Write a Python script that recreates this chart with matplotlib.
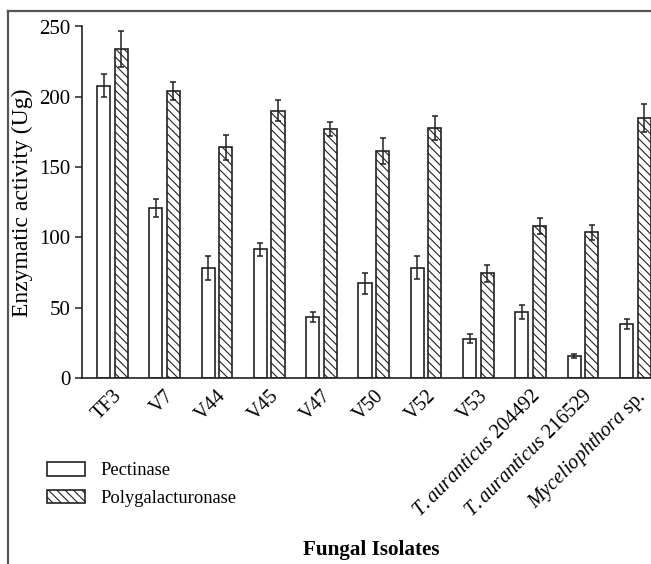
import numpy as np
import matplotlib
matplotlib.use("Agg")
from matplotlib import pyplot as plt
from matplotlib.lines import Line2D

plt.rcParams["font.family"] = "Liberation Serif"
plt.rcParams["mathtext.fontset"] = "custom"
plt.rcParams["mathtext.rm"] = "Liberation Serif"
plt.rcParams["mathtext.it"] = "Liberation Serif:italic"
plt.rcParams["hatch.linewidth"] = 0.8
plt.rcParams["hatch.color"] = "#222222"

# data
# ---------------------------------------

isolates = ["TF3", "V7", "V44", "V45", "V47", "V50", "V52", "V53",
            r"$\mathit{T.auranticus}$ 204492",
            r"$\mathit{T.auranticus}$ 216529",
            r"$\mathit{Myceliophthora}$ sp."]

pectinase = [208, 121, 78, 91.5, 43.5, 67.5, 78.5, 28, 47, 15.5, 38.5]
pectinase_err = [8, 6.5, 8.5, 4.5, 3.5, 7.5, 8, 3, 5, 1.5, 3.5]

polygalacturonase = [234, 204, 164, 190, 177, 161.5, 177.5, 74.5, 108, 103.5, 185]
polygalacturonase_err = [13, 6.5, 9, 7.5, 5, 9.5, 8.5, 6, 5.8, 5, 10]

# plot
# ---------------------------------------

fig = plt.figure(figsize=(6.51, 5.64), dpi=100)
ax = fig.add_axes([82/651, 1 - 378/564, 1 - 82/651, (378 - 26.5)/564])

x = np.arange(len(isolates))
width = 0.25
offset = 0.168

err_kw = dict(ecolor="#222222", elinewidth=1.1, capsize=2.5, capthick=1.1)
ax.bar(x - offset, pectinase, width, yerr=pectinase_err, color="white",
       edgecolor="#222222", linewidth=1.2, label="Pectinase", error_kw=err_kw)
ax.bar(x + offset, polygalacturonase, width, yerr=polygalacturonase_err,
       color="white", edgecolor="#222222", linewidth=1.2, hatch="\\\\\\\\",
       label="Polygalacturonase", error_kw=err_kw)

ax.set_xlim(-0.58, 10.3)
ax.set_ylim(0, 250)
ax.set_yticks(np.arange(0, 251, 50))
ax.set_xticks(x)
ax.set_xticklabels(isolates, rotation=45, ha="right", rotation_mode="anchor")

ax.spines["top"].set_visible(False)
ax.spines["right"].set_visible(False)
for s in ["left", "bottom"]:
    ax.spines[s].set_linewidth(1.2)
    ax.spines[s].set_color("#222222")
ax.tick_params(axis="y", labelsize=15, length=5, width=1.1, color="#222222")
ax.tick_params(axis="x", labelsize=14.5, length=0, pad=6)

fig.text(22/651, 1 - 202.5/564, "Enzymatic activity (Ug)", rotation=90,
         ha="center", va="center", fontsize=17)
fig.text(371/651, 1 - 550/564, "Fungal Isolates", ha="center", va="center",
         fontsize=15.2, fontweight="bold")

fig.legend(loc="center left", bbox_to_anchor=(47/651, 1 - 484.5/564),
           frameon=False, fontsize=13.3, handlelength=2.05, handleheight=0.72,
           handletextpad=0.85, labelspacing=0.55, borderpad=0, borderaxespad=0)

# figure border (left and top edges)
fig.add_artist(Line2D([8/651, 8/651], [0, 1 - 10.5/564], transform=fig.transFigure,
                      color="#555555", linewidth=1.6))
fig.add_artist(Line2D([8/651, 1], [1 - 10.5/564, 1 - 10.5/564], transform=fig.transFigure,
                      color="#555555", linewidth=1.6))

fig.savefig("out.png", dpi=100)
